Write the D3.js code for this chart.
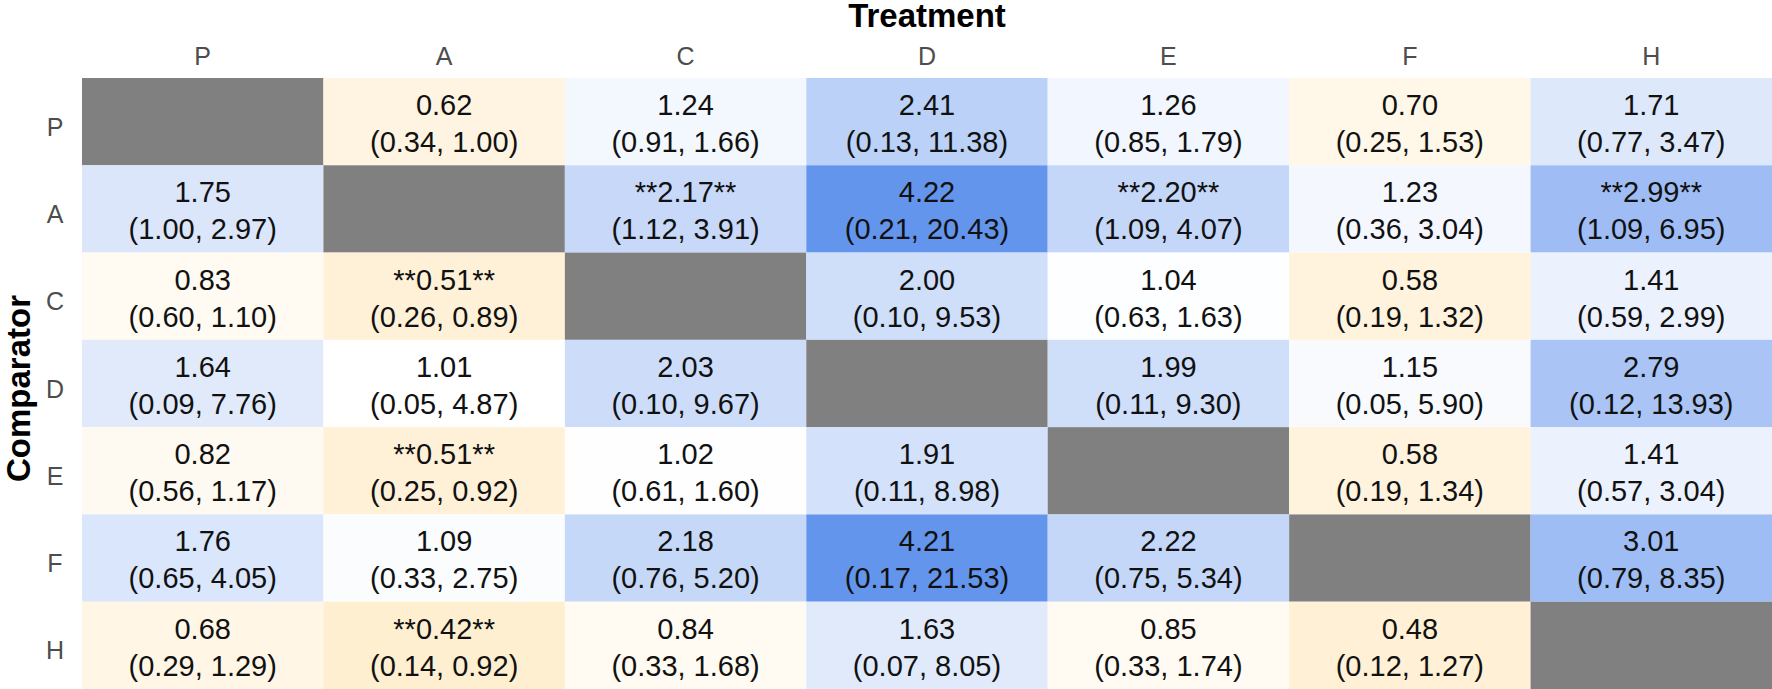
<!DOCTYPE html>
<html>
<head>
<meta charset="utf-8">
<script src="https://cdn.jsdelivr.net/npm/d3@7"></script>
<style>
  body { margin: 0; background: #fff; }
  text { font-family: "Liberation Sans", Arial, sans-serif; }
</style>
</head>
<body>
<svg width="1772" height="689"></svg>
<script>
// treatments (columns) and comparators (rows) share the same codes
const treatments = ["P", "A", "C", "D", "E", "F", "H"];
const comparators = ["P", "A", "C", "D", "E", "F", "H"];

// odds ratios, row = comparator, column = treatment (null = diagonal)
const estimate = [
  [null, 0.62, 1.24, 2.41, 1.26, 0.70, 1.71],
  [1.75, null, 2.17, 4.22, 2.20, 1.23, 2.99],
  [0.83, 0.51, null, 2.00, 1.04, 0.58, 1.41],
  [1.64, 1.01, 2.03, null, 1.99, 1.15, 2.79],
  [0.82, 0.51, 1.02, 1.91, null, 0.58, 1.41],
  [1.76, 1.09, 2.18, 4.21, 2.22, null, 3.01],
  [0.68, 0.42, 0.84, 1.63, 0.85, 0.48, null]
];
const lower = [
  [null, 0.34, 0.91, 0.13, 0.85, 0.25, 0.77],
  [1.00, null, 1.12, 0.21, 1.09, 0.36, 1.09],
  [0.60, 0.26, null, 0.10, 0.63, 0.19, 0.59],
  [0.09, 0.05, 0.10, null, 0.11, 0.05, 0.12],
  [0.56, 0.25, 0.61, 0.11, null, 0.19, 0.57],
  [0.65, 0.33, 0.76, 0.17, 0.75, null, 0.79],
  [0.29, 0.14, 0.33, 0.07, 0.33, 0.12, null]
];
const upper = [
  [null, 1.00, 1.66, 11.38, 1.79, 1.53, 3.47],
  [2.97, null, 3.91, 20.43, 4.07, 3.04, 6.95],
  [1.10, 0.89, null, 9.53, 1.63, 1.32, 2.99],
  [7.76, 4.87, 9.67, null, 9.30, 5.90, 13.93],
  [1.17, 0.92, 1.60, 8.98, null, 1.34, 3.04],
  [4.05, 2.75, 5.20, 21.53, 5.34, null, 8.35],
  [1.29, 0.92, 1.68, 8.05, 1.74, 1.27, null]
];

const svg = d3.select("svg");
const width = +svg.attr("width");
const height = +svg.attr("height");

const gridLeft = 82, gridTop = 78;

const x = d3.scaleBand().domain(treatments).range([gridLeft, width]);
const y = d3.scaleBand().domain(comparators).range([gridTop, height]);

const cells = [];
comparators.forEach((r, i) => {
  treatments.forEach((c, j) => {
    cells.push({row: r, col: c, est: estimate[i][j], lo: lower[i][j], hi: upper[i][j]});
  });
});

// white at 1, symmetric linear stretch either side
const maxDev = d3.max(cells, d => d.est == null ? 0 : Math.abs(d.est - 1));
const color = d3.scaleLinear()
  .domain([1 - maxDev, 1, 1 + maxDev])
  .range(["orange", "white", "cornflowerblue"]);

const fmt = d3.format(".2f");

const cellG = svg.append("g")
  .selectAll("g")
  .data(cells)
  .join("g")
  .attr("transform", d => `translate(${x(d.col)}, ${y(d.row)})`);

cellG.append("rect")
  .attr("width", x.bandwidth())
  .attr("height", y.bandwidth())
  .attr("fill", d => d.est == null ? "#808080" : color(d.est));

const labelled = cellG.filter(d => d.est != null);

labelled.append("text")
  .attr("x", x.bandwidth() / 2)
  .attr("y", 37)
  .attr("text-anchor", "middle")
  .attr("font-size", 29)
  .attr("fill", "#111")
  .text(d => {
    const sig = d.lo > 1 || d.hi < 1;
    return sig ? `**${fmt(d.est)}**` : fmt(d.est);
  });

labelled.append("text")
  .attr("x", x.bandwidth() / 2)
  .attr("y", 74)
  .attr("text-anchor", "middle")
  .attr("font-size", 29)
  .attr("fill", "#111")
  .text(d => `(${fmt(d.lo)}, ${fmt(d.hi)})`);

// column labels
svg.append("g")
  .selectAll("text")
  .data(treatments)
  .join("text")
  .attr("x", d => x(d) + x.bandwidth() / 2)
  .attr("y", 65)
  .attr("text-anchor", "middle")
  .attr("font-size", 25)
  .attr("fill", "#4d4d4d")
  .text(d => d);

// row labels
svg.append("g")
  .selectAll("text")
  .data(comparators)
  .join("text")
  .attr("x", 55)
  .attr("y", d => y(d) + y.bandwidth() / 2 + 14)
  .attr("text-anchor", "middle")
  .attr("font-size", 25)
  .attr("fill", "#4d4d4d")
  .text(d => d);

svg.append("text")
  .attr("x", (gridLeft + width) / 2)
  .attr("y", 27)
  .attr("text-anchor", "middle")
  .attr("font-size", 33)
  .attr("font-weight", "bold")
  .attr("fill", "#000")
  .text("Treatment");

svg.append("text")
  .attr("transform", `translate(30, ${(gridTop + height) / 2 + 5}) rotate(-90)`)
  .attr("text-anchor", "middle")
  .attr("font-size", 33)
  .attr("font-weight", "bold")
  .attr("fill", "#000")
  .text("Comparator");
</script>
</body>
</html>
